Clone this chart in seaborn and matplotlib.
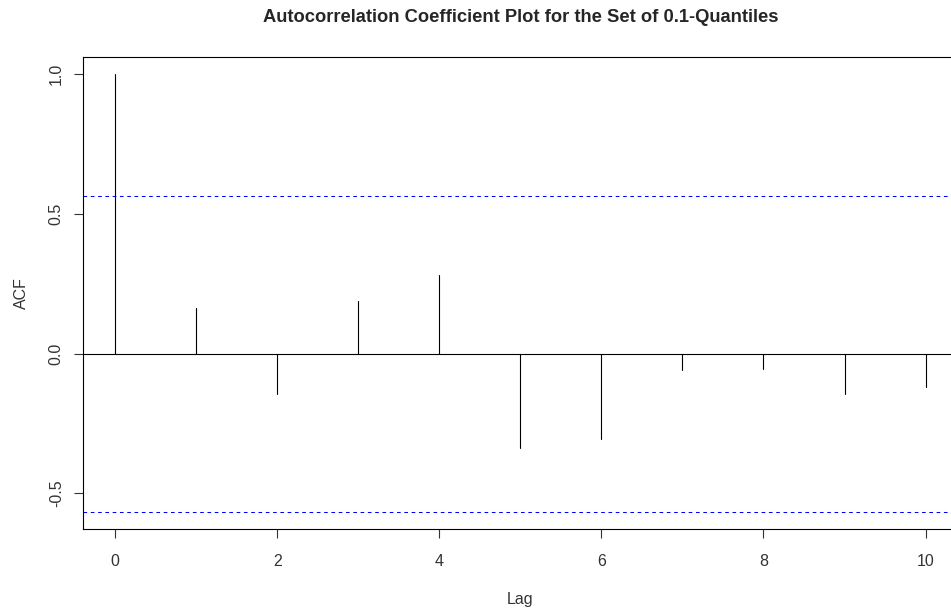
import numpy as np
import pandas as pd
import matplotlib
matplotlib.use("Agg")
import matplotlib.pyplot as plt
import seaborn as sns

# Data
lags = [0, 1, 2, 3, 4, 5, 6, 7, 8, 9, 10]
acf_values = [1.0, 0.164, -0.143, 0.188, 0.280, -0.336, -0.307, -0.060, -0.056, -0.146, -0.119]
n_obs = 12
x_ticks = [0, 2, 4, 6, 8, 10]
y_ticks = [-0.5, 0.0, 0.5, 1.0]
y_tick_labels = ["-0.5", "0.0", "0.5", "1.0"]
title = "Autocorrelation Coefficient Plot for the Set of 0.1-Quantiles"

clim = 1.96 / np.sqrt(n_obs)

sns.set_style("white")
plt.rcParams["font.family"] = ["Liberation Sans", "DejaVu Sans"]

rows = []
for lag, val in zip(lags, acf_values):
    rows.append({"Lag": lag, "ACF": 0.0, "unit": lag})
    rows.append({"Lag": lag, "ACF": val, "unit": lag})
df = pd.DataFrame(rows)

W, H = 951, 609
fig = plt.figure(figsize=(W / 100, H / 100), dpi=100)
left_px, right_px, top_px, bottom_px = 82.6, 958.0, 56.7, 529.3
ax = fig.add_axes([left_px / W, 1 - bottom_px / H, (right_px - left_px) / W, (bottom_px - top_px) / H])

sns.lineplot(data=df, x="Lag", y="ACF", units="unit", estimator=None,
             color="black", linewidth=0.8, ax=ax, legend=False)

ax.axhline(0, color="black", linewidth=0.8)
ax.axhline(clim, color="blue", linewidth=0.75, linestyle=(0, (3.5, 3.5)))
ax.axhline(-clim, color="blue", linewidth=0.75, linestyle=(0, (3.5, 3.5)))

ymin = min(-clim, min(acf_values))
ymax = max(clim, max(acf_values))
yr = ymax - ymin
ax.set_ylim(ymin - 0.04 * yr, ymax + 0.04 * yr)
ax.set_xlim(-0.4, 10.4)

fs = 11.5
ax.set_xticks(x_ticks)
ax.set_xticklabels([str(t) for t in x_ticks], fontsize=fs, color="#333333")
ax.set_yticks(y_ticks)
ax.set_yticklabels(y_tick_labels, fontsize=fs, rotation=90, va="center", color="#333333")

ax.tick_params(axis="both", direction="out", length=6.5, width=0.8, color="#333333",
               bottom=True, left=True)
ax.tick_params(axis="x", pad=11)
ax.tick_params(axis="y", pad=7)

for side in ["left", "top", "bottom", "right"]:
    ax.spines[side].set_visible(True)
    ax.spines[side].set_color("black")
    ax.spines[side].set_linewidth(0.8)

ax.set_xlabel("Lag", fontsize=fs, color="#333333", labelpad=17)
ax.set_ylabel("ACF", fontsize=fs, color="#333333", labelpad=14)
ax.set_title(title, fontsize=13.2, fontweight="bold", pad=25)

fig.savefig("out.png", dpi=100)
